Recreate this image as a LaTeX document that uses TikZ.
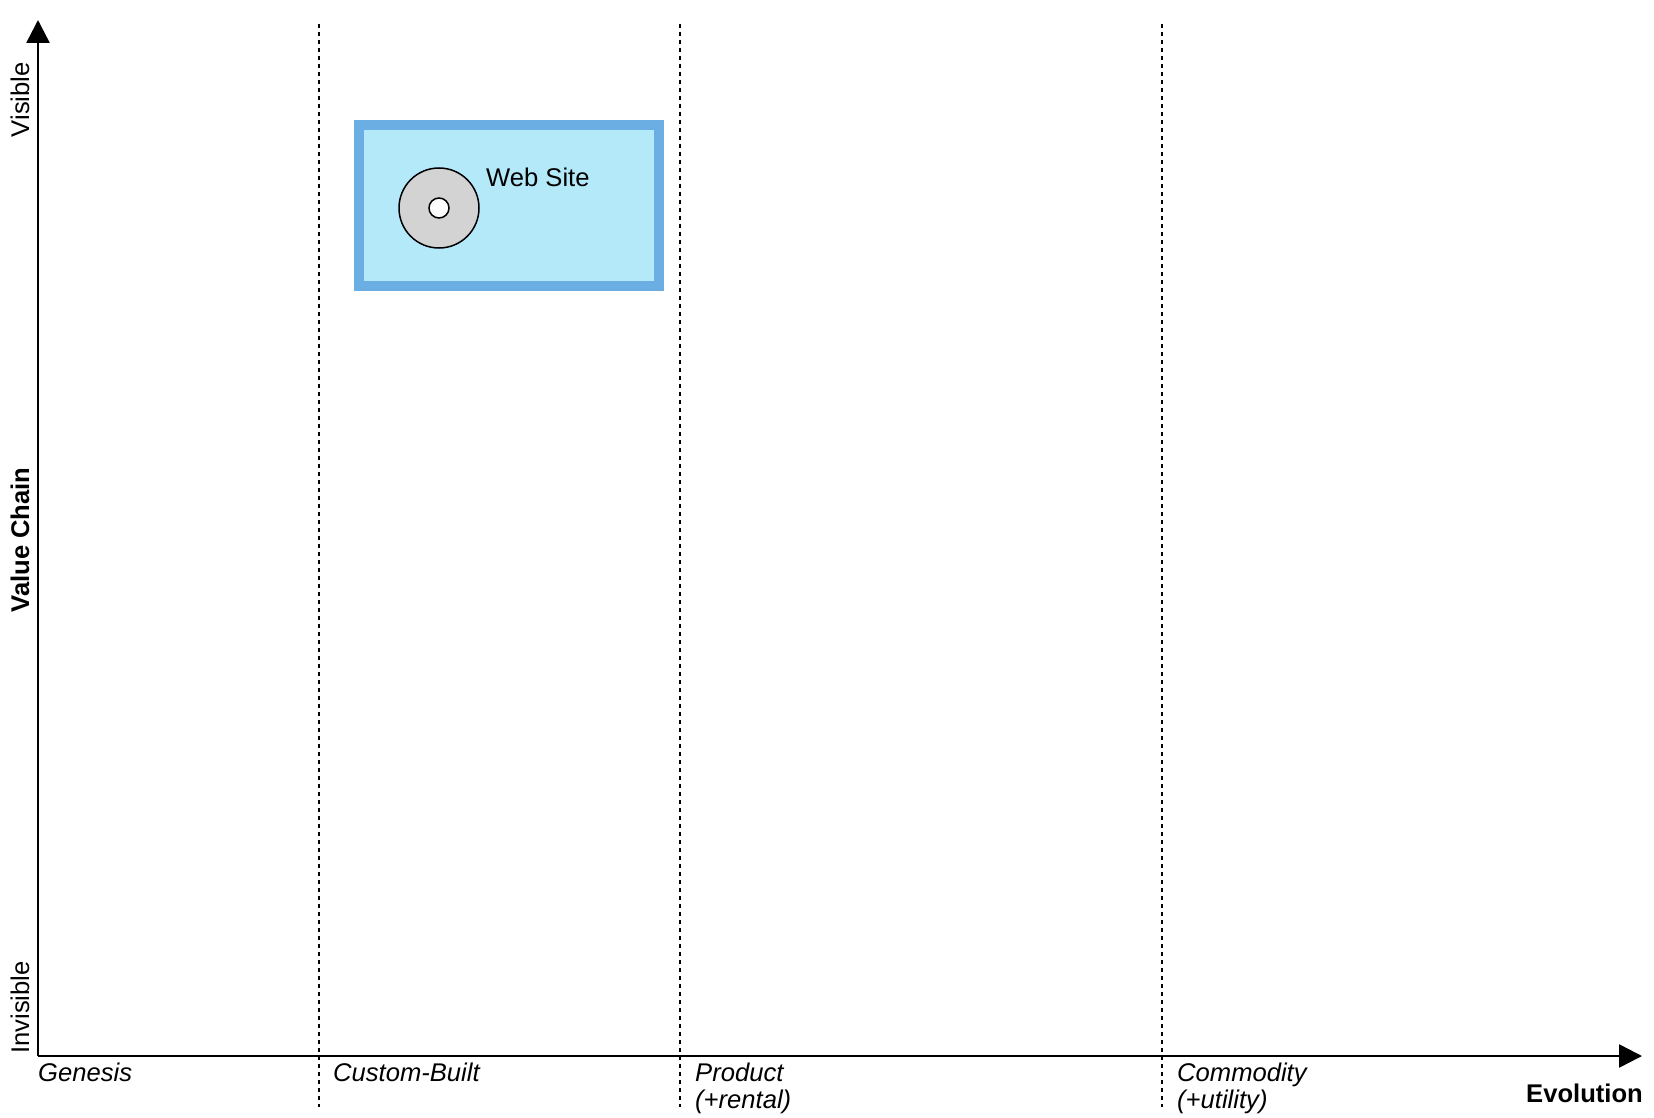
\documentclass[tikz,border=0pt]{standalone}
\usepackage{fontspec}
\setmainfont{Liberation Sans}
\usetikzlibrary{arrows.meta}
\definecolor{boxfill}{RGB}{179,233,249}
\definecolor{boxline}{RGB}{107,174,228}
\definecolor{compgray}{RGB}{211,211,211}
\begin{document}
\begin{tikzpicture}[x=1pt,y=-1pt,
  lbl/.style={inner sep=0pt, font=\fontsize{25.6}{30}\selectfont},
  stagelbl/.style={lbl, anchor=base west, font=\fontsize{25.6}{30}\selectfont\itshape},
  axis/.style={line width=2.5pt, -{Triangle[length=23pt,width=23pt]}},
  divider/.style={line width=2pt, dash pattern=on 4pt off 4pt},
  compbox/.style={draw=boxline, fill=boxfill, line width=10pt, minimum width=300pt, minimum height=161pt, inner sep=0pt},
  comp/.style={circle, draw=black, fill=compgray, line width=1.5pt, minimum size=80pt, inner sep=0pt},
  compdot/.style={circle, draw=black, fill=white, line width=1.5pt, minimum size=20pt, inner sep=0pt}
]
\useasboundingbox (0,0) rectangle (1654,1118);
% dividers
\coordinate (d1t) at (319,24);  \coordinate (d1b) at (319,1107);
\coordinate (d2t) at (680,24);  \coordinate (d2b) at (680,1107);
\coordinate (d3t) at (1162,24); \coordinate (d3b) at (1162,1107);
\draw[divider] (d1t) -- (d1b);
\draw[divider] (d2t) -- (d2b);
\draw[divider] (d3t) -- (d3b);
% axes
\coordinate (origin) at (38,1056);
\coordinate (ytip) at (38,20);
\coordinate (xtip) at (1642,1056);
\draw[axis] (origin) -- (ytip);
\draw[axis] (origin) -- (xtip);
% axis labels
\node[lbl, rotate=90, anchor=base east] (visible) at (29,62) {Visible};
\node[lbl, rotate=90, anchor=base west] (invisible) at (29,1054) {Invisible};
\node[lbl, rotate=90, anchor=base, font=\fontsize{25.6}{30}\selectfont\bfseries] (vchain) at (29,540) {Value Chain};
\node[lbl, anchor=base east, font=\fontsize{25.6}{30}\selectfont\bfseries] (evol) at (1643,1102) {Evolution};
% stage labels
\node[stagelbl] (genesis) at (38,1081) {Genesis};
\node[stagelbl] (custom) at (333,1081) {Custom-Built};
\node[stagelbl] (product) at (695,1081) {Product};
\node[stagelbl] (rental) at (695,1108) {(+rental)};
\node[stagelbl] (commodity) at (1177,1081) {Commodity};
\node[stagelbl] (utility) at (1177,1108) {(+utility)};
% component
\node[compbox] (websitebox) at (509,205.5) {};
\node[comp] (website) at (439,208) {};
\node[compdot] (websitedot) at (website.center) {};
\node[lbl, anchor=base west] (websitelbl) at (486,187) {Web Site};
\end{tikzpicture}
\end{document}
